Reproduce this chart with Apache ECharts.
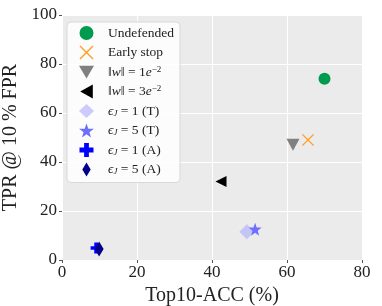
<!DOCTYPE html>
<html>
<head>
<meta charset="utf-8">
<script src="https://cdn.jsdelivr.net/npm/echarts@6/dist/echarts.min.js"></script>
<style>html,body{margin:0;padding:0;background:#fff}#c{width:382px;height:306px}</style>
</head>
<body>
<div id="c"></div>
<script>
// ---- data ----
const seriesNames = ['Undefended', 'Early stop', 'w1e-2', 'w3e-2', 'eJ1T', 'eJ5T', 'eJ1A', 'eJ5A'];
const legendLabels = [
  '{n|Undefended}',
  '{n|Early stop}',
  '{n|‖}{it|w}{n|‖ = 1}{it|e}{sup|−2}',
  '{n|‖}{it|w}{n|‖ = 3}{it|e}{sup|−2}',
  '{it|ϵ}{sub|J}{n| = 1 (T)}',
  '{it|ϵ}{sub|J}{n| = 5 (T)}',
  '{it|ϵ}{sub|J}{n| = 1 (A)}',
  '{it|ϵ}{sub|J}{n| = 5 (A)}'
];
const accValues = [70.0, 65.6, 61.6, 42.4, 49.3, 51.5, 9.1, 9.9];
const tprValues = [74.0, 49.0, 47.0, 32.0, 11.5, 12.6, 4.9, 4.5];
const xTickLabels = ['0', '20', '40', '60', '80'];
const yTickLabels = ['0', '20', '40', '60', '80', '100'];

// ---- marker shapes ----
function xPath() {
  const L = 10, w = 0.75;
  const pts = [[w,L],[w,w],[L,w],[L,-w],[w,-w],[w,-L],[-w,-L],[-w,-w],[-L,-w],[-L,w],[-w,w],[-w,L]];
  const r = pts.map(([x,y]) => [((x - y) / Math.SQRT2).toFixed(3), ((x + y) / Math.SQRT2).toFixed(3)]);
  return 'path://M' + r.map(p => p.join(',')).join('L') + 'Z';
}
function starPath() {
  const ro = 10, ri = 4;
  const pts = [];
  for (let i = 0; i < 10; i++) {
    const a = -Math.PI / 2 + i * Math.PI / 5;
    const r = i % 2 ? ri : ro;
    pts.push((r * Math.cos(a)).toFixed(3) + ',' + (r * Math.sin(a)).toFixed(3));
  }
  return 'path://M' + pts.join('L') + 'Z';
}
const plusPath = 'path://M-3.4,-10L3.4,-10L3.4,-3.4L10,-3.4L10,3.4L3.4,3.4L3.4,10L-3.4,10L-3.4,3.4L-10,3.4L-10,-3.4L-3.4,-3.4Z';
const thinDiamond = 'path://M0,-10L6,0L0,10L-6,0Z';
const triDown = 'path://M-10,-8L10,-8L0,9Z';
const triLeft = 'path://M-9,0L9,-10L9,10Z';

const styles = [
  { symbol: 'circle', size: 12, color: '#009b4e' },
  { symbol: xPath(), size: 12, color: '#ff9d1e' },
  { symbol: triDown, size: [13, 12], color: '#808080' },
  { symbol: triLeft, size: [11, 11], color: '#000000' },
  { symbol: 'diamond', size: [15, 15], color: 'rgba(170,170,255,0.6)' },
  { symbol: starPath(), size: [13, 13], color: '#6e6eff' },
  { symbol: plusPath, size: [11, 11], color: '#0000ff' },
  { symbol: thinDiamond, size: [9, 15], color: '#00008b' }
];

const serif = '"Liberation Serif", "DejaVu Serif", serif';

const series = seriesNames.map((n, i) => ({
  name: n,
  type: 'scatter',
  symbol: styles[i].symbol,
  symbolSize: styles[i].size,
  itemStyle: { color: styles[i].color, opacity: 1 },
  data: [[accValues[i], tprValues[i]]],
  z: 3
}));

const chart = echarts.init(document.getElementById('c'), null, { renderer: 'canvas' });
chart.setOption({
  animation: false,
  backgroundColor: '#ffffff',
  grid: { left: 62, right: 20, top: 15, bottom: 46, show: true, backgroundColor: '#ebebeb', borderWidth: 0,
    containLabel: false, outerBoundsMode: 'none' },
  xAxis: {
    type: 'value', min: 0, max: 80, interval: 20,
    name: 'Top10-ACC (%)', nameLocation: 'middle', nameGap: 22,
    nameTextStyle: { fontFamily: serif, fontSize: 20, color: '#222' },
    axisLine: { show: false },
    axisTick: { show: true, length: 3, lineStyle: { color: '#555' } },
    axisLabel: { fontFamily: serif, fontSize: 17, color: '#222', margin: 4,
      formatter: (v) => xTickLabels[Math.round(v / 20)] },
    splitLine: { show: true, lineStyle: { color: '#ffffff', width: 1 } }
  },
  yAxis: {
    type: 'value', min: 0, max: 100, interval: 20,
    name: 'TPR @ 10 % FPR', nameLocation: 'middle', nameGap: 27,
    nameTextStyle: { fontFamily: serif, fontSize: 20, color: '#222' },
    axisLine: { show: false },
    axisTick: { show: true, length: 3, lineStyle: { color: '#555' } },
    axisLabel: { fontFamily: serif, fontSize: 17, color: '#222', margin: 5,
      formatter: (v) => yTickLabels[Math.round(v / 20)] },
    splitLine: { show: true, lineStyle: { color: '#ffffff', width: 1 } }
  },
  legend: {
    orient: 'vertical', left: 67, top: 22,
    data: seriesNames,
    itemWidth: 15, itemHeight: 14, itemGap: 5.5,
    padding: [4, 6, 6, 12],
    backgroundColor: 'rgba(255,255,255,0.85)',
    borderColor: '#d8d8d8', borderWidth: 1, borderRadius: 4,
    formatter: (name) => legendLabels[seriesNames.indexOf(name)],
    textStyle: {
      fontFamily: serif, fontSize: 13.5, color: '#222', lineHeight: 14, padding: [0, 0, 0, 9],
      rich: {
        n: { fontFamily: serif, fontSize: 13.5, color: '#222', lineHeight: 14 },
        it: { fontFamily: serif, fontSize: 13.5, fontStyle: 'italic', color: '#222', lineHeight: 14 },
        sup: { fontFamily: serif, fontSize: 9, color: '#222', verticalAlign: 'top', lineHeight: 9 },
        sub: { fontFamily: serif, fontSize: 9, fontStyle: 'italic', color: '#222', verticalAlign: 'bottom', lineHeight: 9 }
      }
    }
  },
  series: series
});
</script>
</body>
</html>
